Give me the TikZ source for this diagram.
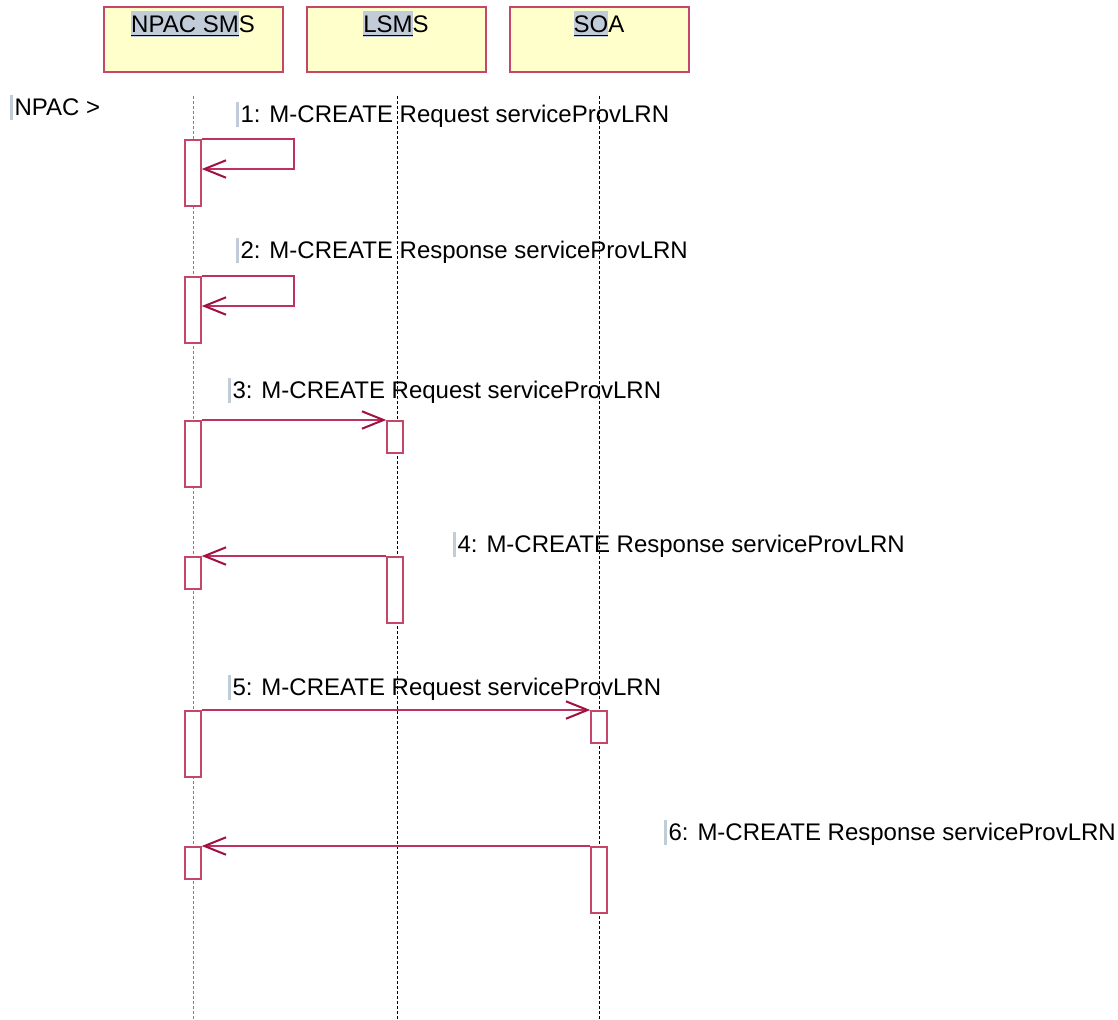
\documentclass[tikz,border=0pt]{standalone}
\usepackage{fontspec}
\setmainfont{Liberation Sans}
\usetikzlibrary{arrows.meta}
\definecolor{hl}{RGB}{194,204,216}
\definecolor{boxfill}{RGB}{255,255,204}
\definecolor{boxline}{RGB}{196,70,104}
\definecolor{msgline}{RGB}{190,50,95}
\definecolor{tipcol}{RGB}{160,16,64}
\newcommand{\selbar}{\textcolor{hl}{\rule[-2.5pt]{1.5pt}{12.5pt}}\hspace{0.6pt}}
\newcommand{\hlpart}[1]{{\setlength{\fboxsep}{0pt}\colorbox{hl}{\rule[-2.5pt]{0pt}{13pt}\underline{#1}}}}
\begin{document}
\begin{tikzpicture}[x=0.5pt,y=-0.5pt,
  txt/.style={inner sep=0pt, font=\fontsize{12pt}{14pt}\selectfont},
  headbox/.style={draw=boxline, fill=boxfill, line width=0.75pt, minimum width=89.5pt, minimum height=32.5pt, inner sep=0pt, anchor=north west},
  life/.style={line width=0.5pt, dash pattern=on 1.5pt off 1pt},
  act/.style={draw=boxline, fill=white, line width=0.75pt, minimum width=8pt, inner sep=0pt, anchor=north},
  msg/.style={draw=msgline, line width=0.75pt, -{Straight Barb[length=10.8pt,width=8.7pt,line width=1pt,color=tipcol]}}
]
\useasboundingbox (0,0) rectangle (1118,1019);

% header boxes
\node[headbox] (npac) at (103,6) {};
\node[headbox] (lsms) at (306,6) {};
\node[headbox] (soa) at (509,6) {};
\node[txt, anchor=base] (npacT) at (193,32) {\hlpart{NPAC SM}S};
\node[txt, anchor=base] (lsmsT) at (396,32) {\hlpart{LSM}S};
\node[txt, anchor=base] (soaT) at (599,32) {\hlpart{SO}A};

% lifelines
\coordinate (l1t) at (193,96); \coordinate (l1b) at (193,1019);
\coordinate (l2t) at (397,96); \coordinate (l2b) at (397,1019);
\coordinate (l3t) at (599,96); \coordinate (l3b) at (599,1019);
\draw[life, draw=gray] (l1t) -- (l1b);
\draw[life, draw=black] (l2t) -- (l2b);
\draw[life, draw=black] (l3t) -- (l3b);

\node[txt, anchor=base west] (side) at (10,115) {\selbar NPAC >};

% message 1 (self)
\node[act, minimum height=33pt] (a1) at (193,139) {};
\draw[msg] (a1.north east) -- ++(92,0) -- ++(0,30) -- ++(-92,0);
\node[txt, anchor=base west] (m1) at (236,122) {\selbar 1: M-CREATE Request serviceProvLRN};

% message 2 (self)
\node[act, minimum height=33pt] (a2) at (193,276) {};
\draw[msg] (a2.north east) -- ++(92,0) -- ++(0,30) -- ++(-92,0);
\node[txt, anchor=base west] (m2) at (236,258) {\selbar 2: M-CREATE Response serviceProvLRN};

% message 3
\node[act, minimum height=33pt] (a3) at (193,420) {};
\node[act, minimum height=16pt] (b3) at (395,420) {};
\draw[msg] (a3.north east) -- (b3.north west);
\node[txt, anchor=base west] (m3) at (228,398) {\selbar 3: M-CREATE Request serviceProvLRN};

% message 4
\node[act, minimum height=16pt] (a4) at (193,556) {};
\node[act, minimum height=33pt] (b4) at (395,556) {};
\draw[msg] (b4.north west) -- (a4.north east);
\node[txt, anchor=base west] (m4) at (453,552) {\selbar 4: M-CREATE Response serviceProvLRN};

% message 5
\node[act, minimum height=33pt] (a5) at (193,710) {};
\node[act, minimum height=16pt] (c5) at (599,710) {};
\draw[msg] (a5.north east) -- (c5.north west);
\node[txt, anchor=base west] (m5) at (228,695) {\selbar 5: M-CREATE Request serviceProvLRN};

% message 6
\node[act, minimum height=16pt] (a6) at (193,846) {};
\node[act, minimum height=33pt] (c6) at (599,846) {};
\draw[msg] (c6.north west) -- (a6.north east);
\node[txt, anchor=base west] (m6) at (664,840) {\selbar 6: M-CREATE Response serviceProvLRN};
\end{tikzpicture}
\end{document}
